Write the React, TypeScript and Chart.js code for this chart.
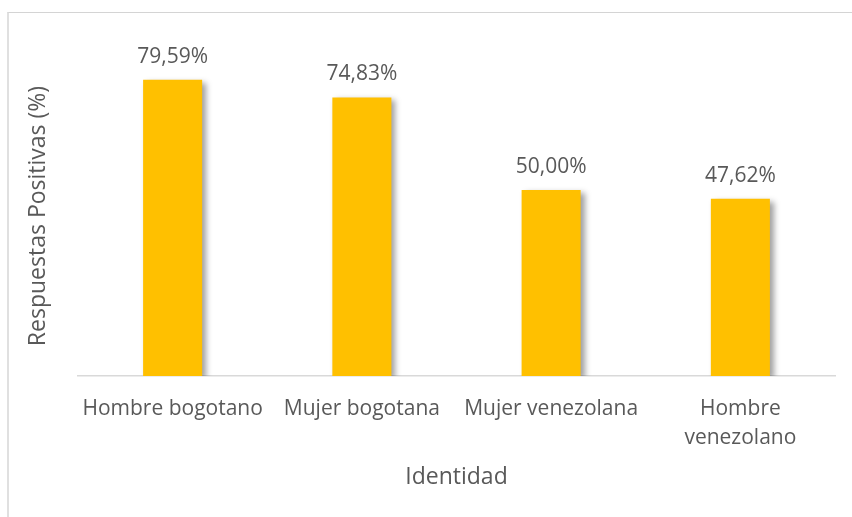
import React, { useEffect, useRef } from "react";
import { Chart, registerables } from "chart.js";

Chart.register(...registerables);

const categories: (string | string[])[] = [
  "Hombre bogotano",
  "Mujer bogotana",
  "Mujer venezolana",
  ["Hombre", "venezolano"],
];
const values: number[] = [79.59, 74.83, 50.0, 47.62];
const valueLabels: string[] = ["79,59%", "74,83%", "50,00%", "47,62%"];
const yTitle = "Respuestas Positivas (%)";
const xTitle = "Identidad";

const FONT = "'Open Sans', 'Liberation Sans', sans-serif";
const TEXT = "#595959";

export default function App() {
  const ref = useRef<HTMLCanvasElement | null>(null);

  useEffect(() => {
    if (!ref.current) return;
    const shadowPlugin = {
      id: "barShadow",
      beforeDatasetsDraw(chart: any) {
        const ctx = chart.ctx;
        ctx.save();
        ctx.shadowColor = "rgba(0,0,0,0.38)";
        ctx.shadowBlur = 6;
        ctx.shadowOffsetX = 4;
        ctx.shadowOffsetY = 3;
      },
      afterDatasetsDraw(chart: any) {
        chart.ctx.restore();
      },
    };
    const labelsPlugin = {
      id: "extraText",
      afterDraw(chart: any) {
        const ctx = chart.ctx;
        const area = chart.chartArea;
        ctx.save();
        ctx.fillStyle = TEXT;
        ctx.font = `21px ${FONT}`;
        ctx.textAlign = "center";
        ctx.textBaseline = "alphabetic";
        const meta = chart.getDatasetMeta(0);
        meta.data.forEach((bar: any, i: number) => {
          ctx.fillText(valueLabels[i], bar.x, bar.y - 17);
        });
        ctx.font = `23px ${FONT}`;
        // x title
        ctx.fillText(xTitle, (area.left + area.right) / 2, 484);
        // y title
        ctx.translate(45, 216);
        ctx.rotate(-Math.PI / 2);
        ctx.fillText(yTitle, 0, 0);
        ctx.restore();
      },
    };
    const chart = new Chart(ref.current, {
      type: "bar",
      data: {
        labels: categories,
        datasets: [
          {
            data: values,
            backgroundColor: "#FFC000",
            borderWidth: 0,
            barPercentage: 1,
            categoryPercentage: 0.312,
          },
        ],
      },
      options: {
        responsive: false,
        animation: false,
        maintainAspectRatio: false,
        layout: { padding: { left: 78, right: 17, top: 41, bottom: 0 } },
        plugins: {
          legend: { display: false },
          tooltip: { enabled: false },
        },
        scales: {
          y: {
            display: false,
            min: 0,
            max: 90,
          },
          x: {
            afterFit: (scale: any) => {
              scale.height = 141;
            },
            grid: { display: false, drawTicks: false },
            border: { display: true, color: "#d9d9d9", width: 1.5 },
            ticks: {
              color: TEXT,
              font: { family: FONT, size: 21, lineHeight: 1.35 },
              padding: 19,
              maxRotation: 0,
              autoSkip: false,
            },
          },
        },
      },
      plugins: [shadowPlugin, labelsPlugin],
    });
    return () => chart.destroy();
  }, []);

  return (
    <div
      style={{
        position: "fixed",
        left: 0,
        top: 0,
        width: 852,
        height: 517,
        overflow: "hidden",
        background: "#fff",
      }}
    >
      <div
        style={{
          position: "absolute",
          left: 7,
          top: 12,
          width: 1000,
          height: 1000,
          borderLeft: "2px solid #e0e0e0",
          borderTop: "1px solid #d4d4d4",
        }}
      />
      <canvas
        ref={ref}
        width={852}
        height={517}
        style={{ position: "absolute", left: 0, top: 0, width: 852, height: 517 }}
      />
    </div>
  );
}
